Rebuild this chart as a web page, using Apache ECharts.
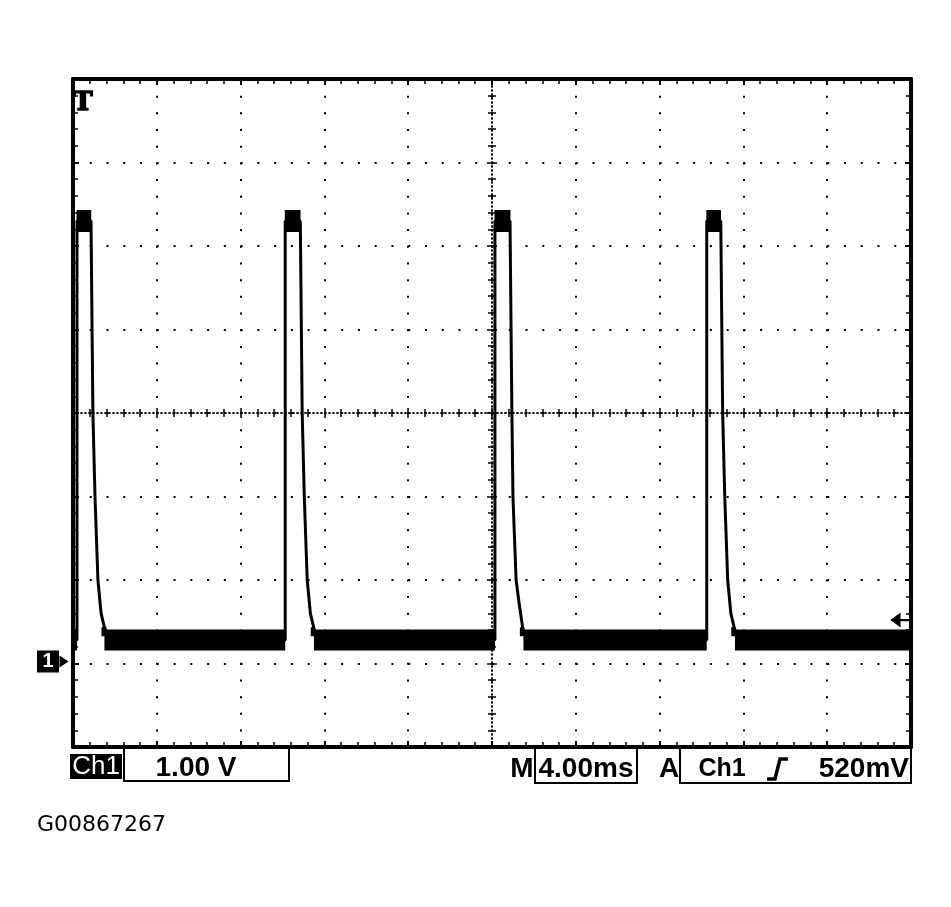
<!DOCTYPE html>
<html><head><meta charset="utf-8">
<script src="https://cdn.jsdelivr.net/npm/echarts@6/dist/echarts.min.js"></script>
<style>html,body{margin:0;padding:0;background:#fff}#c{width:951px;height:907px}</style>
</head><body><div id="c"></div>
<script>
// Time in ms (4.00 ms/div, 10 divs), voltage in V (1.00 V/div, ground at 0)
const timeRange = [0, 40];
const voltRange = [-1, 7];
const timeDiv = 4;
const voltDiv = 1;

// Trace points: [ms, V]
const pulse1 = [[0,0.28],[0.19,0.28],[0.19,5.3],[0.86,5.3],[0.91,4.0],[0.95,3.0],[1.05,2.0],[1.19,1.0],[1.34,0.6],[1.53,0.4],[1.86,0.28]];
const pulse2 = [[10.13,0.28],[10.13,5.3],[10.85,5.3],[10.9,4.0],[10.94,3.0],[11.04,2.0],[11.18,1.0],[11.33,0.6],[11.52,0.4],[11.8,0.28]];
const pulse3 = [[20.14,0.28],[20.14,5.3],[20.86,5.3],[20.91,4.0],[20.95,3.0],[21.0,2.0],[21.15,1.0],[21.29,0.73],[21.48,0.4],[21.81,0.28]];
const pulse4 = [[30.25,0.28],[30.25,5.3],[30.92,5.3],[30.97,4.0],[31.01,3.0],[31.11,2.0],[31.25,1.0],[31.4,0.6],[31.59,0.4],[31.88,0.28],[40,0.28]];

// Noisy baseline band segments [start ms, end ms] at level (V)
const bandSegments = [[0,0.19],[1.5,10.13],[11.5,20.14],[21.5,30.25],[31.6,40]];
const bandLevel = 0.28;
// Decay tails where the band starts thinning in [start ms, end ms]
const tailSegments = [[1.36,1.6],[11.35,11.55],[21.33,21.55],[31.42,31.65]];
const tailLevel = 0.38;
// Noisy pulse tops [start ms, end ms] at level (V)
const peakSegments = [[0.17,0.87],[10.11,10.86],[20.12,20.88],[30.23,30.93]];
const peakLevel = 5.3;
const triggerLevel = 0.52;
const groundLevel = 0;

const trace = [].concat(pulse1, pulse2, pulse3, pulse4);
function segData(segs, lvl){
  const out = [];
  segs.forEach(function(s, i){
    if (i) out.push([s[0], '-']);
    out.push([s[0], lvl], [s[1], lvl]);
  });
  return out;
}

const black = '#000';
function borderAxis(pos, isX, split){
  return {
    type:'value', position:pos,
    min: isX ? timeRange[0] : voltRange[0],
    max: isX ? timeRange[1] : voltRange[1],
    interval: isX ? timeDiv : voltDiv,
    axisLine:{show:true,onZero:false,lineStyle:{color:black,width:4}},
    axisTick:{show:true,inside:true,length:6,lineStyle:{color:black,width:2}},
    minorTick:{show:true,splitNumber:5,length:5,lineStyle:{color:black,width:1.5}},
    axisLabel:{show:false},
    splitLine:{show:split,lineStyle:{color:black,width:2,type: isX ? [2,14.68] : [2,14.76]}},
    minorSplitLine:{show:false}
  };
}
function centerAxis(isX, inside){
  return {
    type:'value',
    position: isX ? 'bottom' : 'left',
    min: isX ? -20 : -4, max: isX ? 20 : 4,
    interval: isX ? timeDiv : voltDiv,
    axisLine:{show:true,onZero:true,onZeroAxisIndex:2,lineStyle:{color:black,width:1.5,type:[1,3]}},
    axisTick:{show:true,inside:inside,length:5,lineStyle:{color:black,width:1.5}},
    minorTick:{show:true,splitNumber:5,length:4,lineStyle:{color:black,width:1.5}},
    axisLabel:{show:false},
    splitLine:{show:false}, minorSplitLine:{show:false}
  };
}

const chart = echarts.init(document.getElementById('c'), null, {renderer:'canvas'});
const txt = function(x, y, t, font, align, fill){
  return {type:'text', x:x, y:y, z:100, style:{text:t, font:font, fill:fill||black, textAlign:align||'center', textVerticalAlign:'middle'}};
};
chart.setOption({
  animation:false,
  backgroundColor:'#fff',
  grid:{left:73, right:40, top:79, bottom:160, containLabel:false},
  xAxis:[borderAxis('bottom',true,true), borderAxis('top',true,false), centerAxis(true,true), centerAxis(true,false)],
  yAxis:[borderAxis('left',false,true), borderAxis('right',false,false), centerAxis(false,true), centerAxis(false,false)],
  series:[
    {type:'line', name:'band', data:segData(bandSegments, bandLevel), symbol:'none', connectNulls:false,
     lineStyle:{color:black,width:21,cap:'butt'}, z:3,
     markPoint:{silent:true, animation:false, data:[
       {coord:[timeRange[0], groundLevel], symbol:'rect', symbolSize:[22,22], symbolOffset:[-25,-2],
        itemStyle:{color:black}, label:{show:true, formatter:'1', color:'#fff', fontWeight:'bold', fontSize:20, fontFamily:'Liberation Sans'}},
       {coord:[timeRange[0], groundLevel], symbol:'triangle', symbolSize:[12,9], symbolRotate:-90, symbolOffset:[-9,-2],
        itemStyle:{color:black}, label:{show:false}},
       {coord:[timeRange[1], triggerLevel], symbol:'path://M0,7 L10,0 L10,6 L19,6 L19,8 L10,8 L10,14 Z', symbolSize:[19,15], symbolOffset:[-11,0],
        itemStyle:{color:black}, label:{show:false}}
     ]}},
    {type:'line', name:'tails', data:segData(tailSegments, tailLevel), symbol:'none', connectNulls:false,
     lineStyle:{color:black,width:9,cap:'butt'}, z:3},
    {type:'line', name:'peaks', data:segData(peakSegments, peakLevel), symbol:'none', connectNulls:false,
     lineStyle:{color:black,width:22,cap:'butt'}, z:3},
    {type:'line', name:'trace', data:trace, symbol:'none', lineStyle:{color:black,width:3}, z:4}
  ],
  graphic:[
    {type:'text', x:83, y:103, z:100, style:{text:'T', font:'bold 26px "DejaVu Serif"', fill:black, stroke:black, lineWidth:1.5, textAlign:'center', textVerticalAlign:'middle'}},
    {type:'rect', z:100, shape:{x:70,y:754,width:52,height:25}, style:{fill:black}},
    txt(96, 767, 'Ch1', '26px "Liberation Sans"', 'center', '#fff'),
    {type:'rect', z:100, shape:{x:124,y:748,width:165,height:33}, style:{fill:'none', stroke:black, lineWidth:2}},
    txt(196, 768, '1.00 V', 'bold 28px "Liberation Sans"'),
    txt(522, 769, 'M', 'bold 28px "Liberation Sans"'),
    {type:'rect', z:100, shape:{x:535,y:748,width:102,height:35}, style:{fill:'none', stroke:black, lineWidth:2}},
    txt(586, 769, '4.00ms', 'bold 28px "Liberation Sans"'),
    txt(669, 769, 'A', 'bold 28px "Liberation Sans"'),
    {type:'rect', z:100, shape:{x:680,y:748,width:231,height:35}, style:{fill:'none', stroke:black, lineWidth:2}},
    txt(722, 769, 'Ch1', 'bold 25px "Liberation Sans"'),
    {type:'polyline', z:100, shape:{points:[[767,779],[775,779],[780,759],[788,759]]}, style:{stroke:black, lineWidth:3.5, fill:'none'}},
    txt(909, 769, '520mV', 'bold 28px "Liberation Sans"', 'right'),
    txt(37, 825, 'G00867267', '22px "DejaVu Sans"', 'left')
  ]
});
</script>
</body></html>
